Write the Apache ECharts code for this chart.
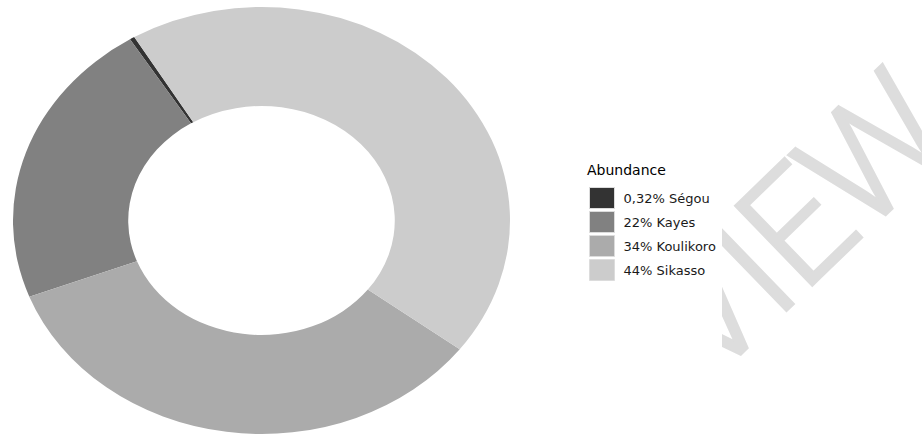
<!DOCTYPE html>
<html>
<head>
<meta charset="utf-8">
<script src="https://cdn.jsdelivr.net/npm/echarts@6/dist/echarts.min.js"></script>
<style>
  html, body { margin: 0; padding: 0; background: #ffffff; }
  #chart { width: 922px; height: 435px; }
</style>
</head>
<body>
<div id="chart"></div>
<script>
// Regional abundance shares (legend order)
const regions = ['Ségou', 'Kayes', 'Koulikoro', 'Sikasso'];
const shares = [0.32, 22, 34, 44];
const shareLabels = ['0,32%', '22%', '34%', '44%'];
const fills = ['#333333', '#818181', '#ababab', '#cccccc'];

const names = regions.map((r, i) => shareLabels[i] + ' ' + r);
const total = shares.reduce((a, b) => a + b, 0);

// Slices run clockwise starting with Sikasso; angles are degrees clockwise from 12 o'clock
const START_DEG = -30.8;
const drawOrder = [3, 2, 1, 0];
const startOf = {};
let acc = START_DEG;
drawOrder.forEach(i => { startOf[i] = acc; acc += shares[i] / total * 360; });

// Ring geometry: circular ring widened horizontally into an ellipse
const ring = { cx: 261.5, cy: 220.5, r: 213.5, r0: 114.5, stretch: 1.164 };
const toRad = deg => (deg - 90) * Math.PI / 180;

const series = regions.map((r, i) => ({
  type: 'custom',
  name: names[i],
  coordinateSystem: 'none',
  itemStyle: { color: fills[i] },
  data: [[startOf[i], shares[i]]],
  renderItem: (params, api) => {
    const a0 = api.value(0);
    const sweep = api.value(1) / total * 360;
    return {
      type: 'sector',
      x: ring.cx,
      y: ring.cy,
      scaleX: ring.stretch,
      shape: {
        cx: 0, cy: 0, r: ring.r, r0: ring.r0,
        startAngle: toRad(a0), endAngle: toRad(a0 + sweep), clockwise: true
      },
      style: { fill: api.visual('color') }
    };
  }
}));

// Diagonal watermark, one glyph per element so the spacing follows the stamp
const stampLetters = ['V', 'I', 'E', 'W'];
const stampCentres = [[707, 313], [753, 269], [797, 226], [875, 151]];
const stampAngle = 44 * Math.PI / 180;
const stamp = stampLetters.map((ch, i) => ({
  type: 'text',
  silent: true,
  z: -10,
  x: stampCentres[i][0],
  y: stampCentres[i][1],
  rotation: stampAngle,
  style: {
    text: ch,
    font: '300 155px Roboto',
    fill: '#dddddd',
    stroke: '#dddddd',
    lineWidth: 3,
    textAlign: 'center',
    textVerticalAlign: 'middle'
  }
}));
// The watermark only shows to the right of the plot panel; a white panel hides it on the left
const panel = {
  type: 'rect',
  silent: true,
  z: -5,
  shape: { x: 0, y: 0, width: 722, height: 435 },
  style: { fill: '#ffffff' }
};

const chart = echarts.init(document.getElementById('chart'), null, { renderer: 'svg' });
chart.setOption({
  animation: false,
  backgroundColor: '#ffffff',
  title: {
    text: 'Abundance',
    left: 587,
    top: 163,
    padding: 0,
    textStyle: { fontFamily: 'DejaVu Sans', fontSize: 14, fontWeight: 'normal', color: '#000000' }
  },
  legend: {
    orient: 'vertical',
    left: 589,
    top: 187,
    padding: 0,
    itemWidth: 25,
    itemHeight: 21,
    itemGap: 2,
    icon: 'rect',
    selectedMode: false,
    data: names.map((n, i) => ({
      name: n,
      itemStyle: { color: fills[i], borderColor: '#dcdcdc', borderWidth: 1 }
    })),
    textStyle: { fontFamily: 'DejaVu Sans', fontSize: 13, color: '#1a1a1a', padding: [0, 0, 0, 4] }
  },
  graphic: stamp.concat([panel]),
  series: series
});
</script>
</body>
</html>
